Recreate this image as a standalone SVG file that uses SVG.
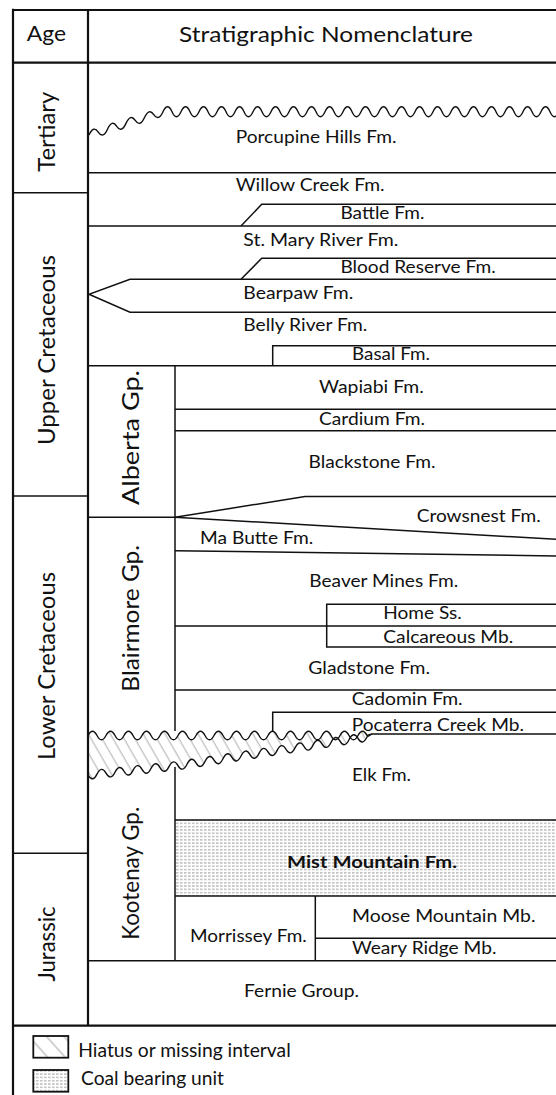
<svg xmlns="http://www.w3.org/2000/svg" width="556" height="1095" viewBox="0 0 556 1095">
<style>
.ln{stroke:#111;stroke-width:1.5;fill:none}
.bd{stroke:#111;stroke-width:2.2;fill:none}
.wv{stroke:#111;stroke-width:1.4;fill:none}
.t{font-family:Lato,"Open Sans",sans-serif;font-size:17.5px;fill:#111}
.h{font-size:22px}
.v{font-size:24px;text-anchor:middle}
.g{font-size:23px;text-anchor:middle}
.lg{font-size:19.5px}
.b{font-weight:bold}
</style>
<defs>
<pattern id="hatch" width="9.5" height="9.5" patternUnits="userSpaceOnUse" patternTransform="rotate(-30)"><line x1="4" y1="-1" x2="4" y2="11" stroke="#9a9a9a" stroke-width="0.8"/></pattern>
<pattern id="hatch2" width="13" height="13" patternUnits="userSpaceOnUse" patternTransform="rotate(-42)"><line x1="4" y1="-1" x2="4" y2="14" stroke="#9a9a9a" stroke-width="0.9"/></pattern>
<pattern id="coal" width="4" height="3.3" patternUnits="userSpaceOnUse"><rect width="4" height="3.3" fill="#fff"/><rect x="0" y="1.1" width="2.6" height="1.1" fill="#a8a8a8"/></pattern>
<clipPath id="belowTop"><path d="M88,735.5 Q92.5,727 97,735.5 T106,735.5 T115,735.5 T124,735.5 T133,735.5 T142,735.5 T151,735.5 T160,735.5 T169,735.5 T178,735.5 T187,735.5 T196,735.5 T205,735.5 T214,735.5 T223,735.5 T232,735.5 T241,735.5 T250,735.5 T259,735.5 T268,735.5 T277,735.5 T286,735.5 T295,735.5 T304,735.5 T313,735.5 T322,735.5 T331,735.5 T340,735.5 T349,735.5 T358,735.5 T367,735.5 L372,734 L372,800 L80,800 L80,735.5 Z"/></clipPath>
<clipPath id="aboveBot"><path d="M88,775 Q92.5,783 97,774.07 T106,773.14 T115,772.21 T124,771.28 T133,770.35 T142,769.42 T151,768.49 T160,767.55 T169,766.62 T178,765.55 T187,764.19 T196,762.83 T205,761.47 T214,760.11 T223,758.75 T232,757.39 T241,756.03 T250,754.67 T259,753.32 T268,751.96 T277,750.6 T286,749.24 T295,747.88 T304,746.52 T313,745.16 T322,743.8 T331,742.44 T340,741.08 T349,739.72 T358,738.36 T367,737 L372,734 L372,700 L80,700 L80,775 Z"/></clipPath>
</defs>
<rect width="556" height="1095" fill="#fff"/>

<g id="fills">
<g clip-path="url(#belowTop)"><g clip-path="url(#aboveBot)"><rect x="88" y="725" width="285" height="62" fill="url(#hatch)"/></g></g>
<rect x="175" y="820" width="381" height="76" fill="url(#coal)"/>
</g>

<g id="frame">
<line class="bd" x1="13" y1="10" x2="556" y2="10" stroke-width="2.6"/>
<line class="bd" x1="13" y1="8.7" x2="13" y2="1095" stroke-width="3"/>
<line class="bd" x1="13" y1="62.7" x2="556" y2="62.7" stroke-width="1.9"/>
<line class="bd" x1="88" y1="10" x2="88" y2="1025.7" stroke-width="1.9"/>
<line class="bd" x1="13" y1="1025.7" x2="556" y2="1025.7" stroke-width="2"/>
<line class="ln" x1="13" y1="192.7" x2="88" y2="192.7"/>
<line class="ln" x1="13" y1="496" x2="88" y2="496"/>
<line class="ln" x1="13" y1="853.3" x2="88" y2="853.3"/>
</g>

<g id="connectors">
<path class="wv" d="M89,135 Q93.6,125 98.25,132.09 T107.5,129.18 T116.75,126.26 T126,123.35 T135.25,120.44 T144.5,117.53 T153.75,114.61 T163,111.7 T172,111.7 T181,111.7 T190,111.7 T199,111.7 T208,111.7 T217,111.7 T226,111.7 T235,111.7 T244,111.7 T253,111.7 T262,111.7 T271,111.7 T280,111.7 T289,111.7 T298,111.7 T307,111.7 T316,111.7 T325,111.7 T334,111.7 T343,111.7 T352,111.7 T361,111.7 T370,111.7 T379,111.7 T388,111.7 T397,111.7 T406,111.7 T415,111.7 T424,111.7 T433,111.7 T442,111.7 T451,111.7 T460,111.7 T469,111.7 T478,111.7 T487,111.7 T496,111.7 T505,111.7 T514,111.7 T523,111.7 T532,111.7 T541,111.7 T550,111.7 T559,111.7"/>
<line class="ln" x1="88" y1="172.7" x2="556" y2="172.7"/>
<polyline class="ln" points="241,226 261.7,204.3 556,204.3"/>
<line class="ln" x1="88" y1="226" x2="556" y2="226"/>
<polyline class="ln" points="241,279.3 261.7,258.3 556,258.3"/>
<polyline class="ln" points="556,279.3 130,279.3 89,294.3 130,312.3 556,312.3"/>
<polyline class="ln" points="272.7,365.7 272.7,345.7 556,345.7"/>
<line class="ln" x1="88" y1="365.7" x2="556" y2="365.7"/>
<line class="ln" x1="175" y1="365.7" x2="175" y2="731"/>
<line class="ln" x1="175" y1="409.3" x2="556" y2="409.3"/>
<line class="ln" x1="175" y1="430.7" x2="556" y2="430.7"/>
<line class="ln" x1="88" y1="517.3" x2="175" y2="517.3"/>
<polyline class="ln" points="175,517.3 305,496.5 556,496.5"/>
<line class="ln" x1="175" y1="517.3" x2="556" y2="539.3"/>
<line class="ln" x1="175" y1="550.7" x2="556" y2="556"/>
<polyline class="ln" points="556,604.3 326.7,604.3 326.7,647 556,647"/>
<line class="ln" x1="175" y1="626" x2="556" y2="626"/>
<line class="ln" x1="175" y1="690" x2="556" y2="690"/>
<polyline class="ln" points="556,712.3 272.7,712.3 272.7,732"/>
<path class="wv" d="M88,735.5 Q92.5,727 97,735.5 T106,735.5 T115,735.5 T124,735.5 T133,735.5 T142,735.5 T151,735.5 T160,735.5 T169,735.5 T178,735.5 T187,735.5 T196,735.5 T205,735.5 T214,735.5 T223,735.5 T232,735.5 T241,735.5 T250,735.5 T259,735.5 T268,735.5 T277,735.5 T286,735.5 T295,735.5 T304,735.5 T313,735.5 T322,735.5 T331,735.5 T340,735.5 T349,735.5 T358,735.5 T367,735.5 L372,734 L556,734"/>
<path class="wv" d="M88,775 Q92.5,783 97,774.07 T106,773.14 T115,772.21 T124,771.28 T133,770.35 T142,769.42 T151,768.49 T160,767.55 T169,766.62 T178,765.55 T187,764.19 T196,762.83 T205,761.47 T214,760.11 T223,758.75 T232,757.39 T241,756.03 T250,754.67 T259,753.32 T268,751.96 T277,750.6 T286,749.24 T295,747.88 T304,746.52 T313,745.16 T322,743.8 T331,742.44 T340,741.08 T349,739.72 T358,738.36 T367,737 L372,734"/>
<line class="ln" x1="175" y1="767" x2="175" y2="960.7"/>
<line class="ln" x1="175" y1="820" x2="556" y2="820"/>
<line class="ln" x1="175" y1="896" x2="556" y2="896"/>
<line class="ln" x1="315.3" y1="896" x2="315.3" y2="960.7"/>
<line class="ln" x1="315.3" y1="938.3" x2="556" y2="938.3"/>
<line class="ln" x1="88" y1="960.7" x2="556" y2="960.7"/>
</g>

<g id="header">
<text class="t h" x="26.7" y="41" textLength="39.3" lengthAdjust="spacingAndGlyphs">Age</text>
<text class="t h" x="179" y="41.5" textLength="294" lengthAdjust="spacingAndGlyphs">Stratigraphic Nomenclature</text>
</g>

<g id="ages">
<text class="t v" transform="translate(55,131.7) rotate(-90)" textLength="80" lengthAdjust="spacingAndGlyphs">Tertiary</text>
<text class="t v" transform="translate(55,350) rotate(-90)" textLength="190" lengthAdjust="spacingAndGlyphs">Upper Cretaceous</text>
<text class="t v" transform="translate(55,666) rotate(-90)" textLength="188" lengthAdjust="spacingAndGlyphs">Lower Cretaceous</text>
<text class="t v" transform="translate(55,944) rotate(-90)" textLength="75" lengthAdjust="spacingAndGlyphs">Jurassic</text>
</g>

<g id="groups">
<text class="t g" transform="translate(139,437.5) rotate(-90)" textLength="135" lengthAdjust="spacingAndGlyphs">Alberta Gp.</text>
<text class="t g" transform="translate(139,618.3) rotate(-90)" textLength="146.7" lengthAdjust="spacingAndGlyphs">Blairmore Gp.</text>
<text class="t g" transform="translate(139,873.3) rotate(-90)" textLength="133" lengthAdjust="spacingAndGlyphs">Kootenay Gp.</text>
</g>

<g id="formations">
<text class="t" x="235.7" y="143.3" textLength="160.8" lengthAdjust="spacingAndGlyphs">Porcupine Hills Fm.</text>
<text class="t" x="235.7" y="191" textLength="149" lengthAdjust="spacingAndGlyphs">Willow Creek Fm.</text>
<text class="t" x="340.4" y="219.3" textLength="84" lengthAdjust="spacingAndGlyphs">Battle Fm.</text>
<text class="t" x="243.3" y="246" textLength="155" lengthAdjust="spacingAndGlyphs">St. Mary River Fm.</text>
<text class="t" x="340.4" y="273.3" textLength="155.3" lengthAdjust="spacingAndGlyphs">Blood Reserve Fm.</text>
<text class="t" x="243.3" y="299" textLength="110" lengthAdjust="spacingAndGlyphs">Bearpaw Fm.</text>
<text class="t" x="243.3" y="331" textLength="124" lengthAdjust="spacingAndGlyphs">Belly River Fm.</text>
<text class="t" x="352" y="360" textLength="78" lengthAdjust="spacingAndGlyphs">Basal Fm.</text>
<text class="t" x="319" y="393.3" textLength="104.8" lengthAdjust="spacingAndGlyphs">Wapiabi Fm.</text>
<text class="t" x="319" y="425" textLength="106" lengthAdjust="spacingAndGlyphs">Cardium Fm.</text>
<text class="t" x="308.5" y="468.3" textLength="127" lengthAdjust="spacingAndGlyphs">Blackstone Fm.</text>
<text class="t" x="416.7" y="522" textLength="124" lengthAdjust="spacingAndGlyphs">Crowsnest Fm.</text>
<text class="t" x="200" y="544" textLength="113.3" lengthAdjust="spacingAndGlyphs">Ma Butte Fm.</text>
<text class="t" x="309.3" y="587" textLength="149" lengthAdjust="spacingAndGlyphs">Beaver Mines Fm.</text>
<text class="t" x="383.3" y="619.3" textLength="78.4" lengthAdjust="spacingAndGlyphs">Home Ss.</text>
<text class="t" x="383.3" y="642.7" textLength="130" lengthAdjust="spacingAndGlyphs">Calcareous Mb.</text>
<text class="t" x="308.3" y="674" textLength="121.7" lengthAdjust="spacingAndGlyphs">Gladstone Fm.</text>
<text class="t" x="351.7" y="705" textLength="111" lengthAdjust="spacingAndGlyphs">Cadomin Fm.</text>
<text class="t" x="351.7" y="730.7" textLength="172.3" lengthAdjust="spacingAndGlyphs">Pocaterra Creek Mb.</text>
<text class="t" x="352" y="781" textLength="59" lengthAdjust="spacingAndGlyphs">Elk Fm.</text>
<text class="t b" x="287" y="868" textLength="170" lengthAdjust="spacingAndGlyphs">Mist Mountain Fm.</text>
<text class="t" x="190" y="942.3" textLength="116.7" lengthAdjust="spacingAndGlyphs">Morrissey Fm.</text>
<text class="t" x="352" y="922.3" textLength="183.5" lengthAdjust="spacingAndGlyphs">Moose Mountain Mb.</text>
<text class="t" x="352" y="954" textLength="144.5" lengthAdjust="spacingAndGlyphs">Weary Ridge Mb.</text>
<text class="t" x="244" y="997.3" textLength="115" lengthAdjust="spacingAndGlyphs">Fernie Group.</text>
</g>

<g id="legend">
<rect x="33.3" y="1036" width="35" height="21.7" fill="url(#hatch2)" stroke="#111" stroke-width="1.8"/>
<text class="t lg" x="78.3" y="1056.7" textLength="212.4" lengthAdjust="spacingAndGlyphs">Hiatus or missing interval</text>
<rect x="33.3" y="1070" width="35" height="21.7" fill="url(#coal)" stroke="#111" stroke-width="1.8"/>
<text class="t lg" x="81" y="1085" textLength="143" lengthAdjust="spacingAndGlyphs">Coal bearing unit</text>
</g>
</svg>
